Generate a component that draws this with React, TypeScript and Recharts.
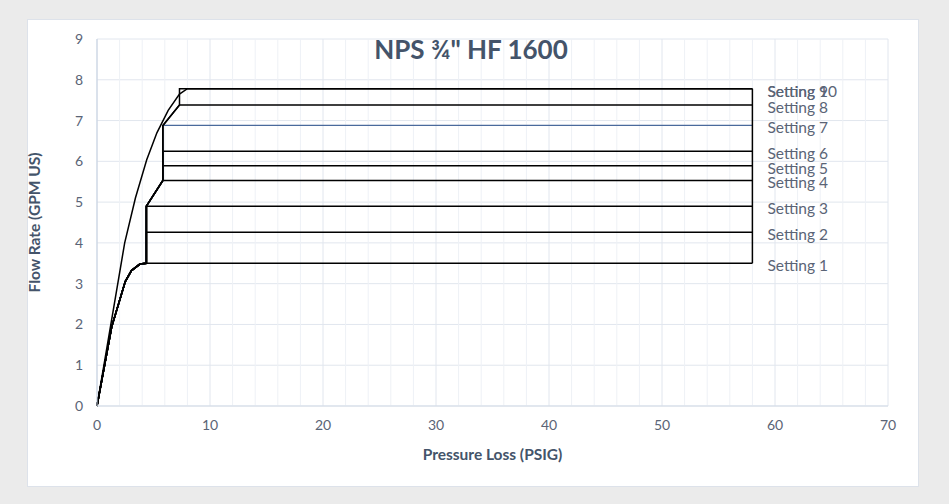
import React from 'react';
import { LineChart, Line, XAxis, YAxis, CartesianGrid, ReferenceLine, LabelList, Label } from 'recharts';

// Upper envelope (Setting 10)
const upperPressure = [0, 2.45, 3.4, 4.4, 5.3, 6.3, 7.3, 8.0];
const upperFlow = [0, 4.0, 5.1, 6.04, 6.7, 7.25, 7.65, 7.78];

// Lower envelope shared by Settings 1-9
const lowerPressure = [0, 1.3, 2.5, 3.05, 3.8, 4.37];
const lowerFlow = [0, 1.94, 3.05, 3.32, 3.48, 3.5];

// Knee points where the settings branch off
const kneePressure = [4.37, 4.37, 5.83, 5.83, 7.3, 7.3];
const kneeFlow = [3.5, 4.9, 5.53, 6.88, 7.38, 7.78];

const settingNames = ['Setting 1', 'Setting 2', 'Setting 3', 'Setting 4', 'Setting 5', 'Setting 6', 'Setting 7', 'Setting 8', 'Setting 9', 'Setting 10'];
const settingFlow = [3.5, 4.26, 4.9, 5.53, 5.89, 6.25, 6.88, 7.38, 7.78, 7.78];
const settingColor = ['#000', '#000', '#000', '#000', '#000', '#000', '#4a6a9c', '#000', '#000', '#000'];
const maxPressure = 58;

const xTicks = [0, 10, 20, 30, 40, 50, 60, 70];
const xMinor = [2, 4, 6, 8, 12, 14, 16, 18, 22, 24, 26, 28, 32, 34, 36, 38, 42, 44, 46, 48, 52, 54, 56, 58, 62, 64, 66, 68];
const yTicks = [0, 1, 2, 3, 4, 5, 6, 7, 8, 9];

type Pt = { x: number; y: number };

const buildSetting = (i: number): Pt[] => {
  const level = settingFlow[i];
  if (i === settingFlow.length - 1) {
    const pts = upperPressure.map((p, k) => ({ x: p, y: upperFlow[k] }));
    pts.push({ x: maxPressure, y: level });
    return pts;
  }
  const pts: Pt[] = lowerPressure.map((p, k) => ({ x: p, y: lowerFlow[k] }));
  for (let k = 1; k < kneePressure.length; k++) {
    if (kneeFlow[k] <= level) {
      pts.push({ x: kneePressure[k], y: kneeFlow[k] });
    } else {
      if (kneePressure[k] === kneePressure[k - 1] && level > kneeFlow[k - 1]) {
        pts.push({ x: kneePressure[k], y: level });
      }
      break;
    }
  }
  pts.push({ x: maxPressure, y: level });
  return pts;
};

const settings = settingNames.map((name, i) => ({ name, color: settingColor[i], data: buildSetting(i) }));
const edge: Pt[] = [
  { x: maxPressure, y: settingFlow[0] },
  { x: maxPressure, y: settingFlow[settingFlow.length - 1] },
];

const textColor = '#44546a';
const tickColor = '#5a6476';

const endLabel = (name: string, last: number) => (props: any) => {
  if (props.index !== last) return null;
  return (
    <text x={props.x + 15} y={props.y + 2} dominantBaseline="central" fontSize={15.5} fill={tickColor}>
      {name}
    </text>
  );
};

export default function App() {
  return (
    <div style={{ position: 'absolute', left: 0, top: 0, width: 949, height: 504, background: '#ebebeb', fontFamily: 'Lato, "Open Sans", sans-serif' }}>
      <div style={{ position: 'absolute', left: 27, top: 19, width: 890, height: 466, background: '#fff', border: '1px solid #dde2ea' }} />
      <div style={{ position: 'absolute', left: 0, top: 0 }}>
        <LineChart width={949} height={504} margin={{ top: 39, right: 61, bottom: 68, left: 37 }}>
          {xMinor.map((v) => (
            <ReferenceLine key={v} x={v} stroke="#eef1f6" strokeWidth={1} />
          ))}
          <CartesianGrid stroke="#e1e6ee" />
          <XAxis
            type="number"
            dataKey="x"
            domain={[0, 70]}
            ticks={xTicks}
            tickLine={false}
            tickMargin={8}
            axisLine={{ stroke: '#d3dbe6' }}
            tick={{ fill: tickColor, fontSize: 14 }}
            height={30}
          >
            <Label value="Pressure Loss (PSIG)" position="bottom" offset={13} style={{ fill: textColor, fontWeight: 700, fontSize: 15.5 }} />
          </XAxis>
          <YAxis
            type="number"
            dataKey="y"
            domain={[0, 9]}
            ticks={yTicks}
            tickLine={false}
            tickMargin={8}
            axisLine={{ stroke: '#c5d0e0' }}
            tick={{ fill: tickColor, fontSize: 14 }}
            width={60}
          >
            <Label value="Flow Rate (GPM US)" angle={-90} position="left" offset={3} style={{ fill: textColor, fontWeight: 700, fontSize: 15.5, textAnchor: 'middle' }} />
          </YAxis>
          {settings.map((s) => (
            <Line
              key={s.name}
              data={s.data}
              dataKey="y"
              name={s.name}
              type="linear"
              stroke={s.color}
              strokeWidth={s.color === '#000' ? 1.5 : 1.2}
              dot={false}
              activeDot={false}
              isAnimationActive={false}
            >
              <LabelList dataKey="y" content={endLabel(s.name, s.data.length - 1)} />
            </Line>
          ))}
          <Line data={edge} dataKey="y" type="linear" stroke="#000" strokeWidth={1.5} dot={false} activeDot={false} isAnimationActive={false} />
        </LineChart>
      </div>
      <div style={{ position: 'absolute', left: 0, width: 942, top: 32, textAlign: 'center', fontSize: 26, fontWeight: 700, color: textColor, lineHeight: '34px' }}>
        NPS ¾" HF 1600
      </div>
    </div>
  );
}
